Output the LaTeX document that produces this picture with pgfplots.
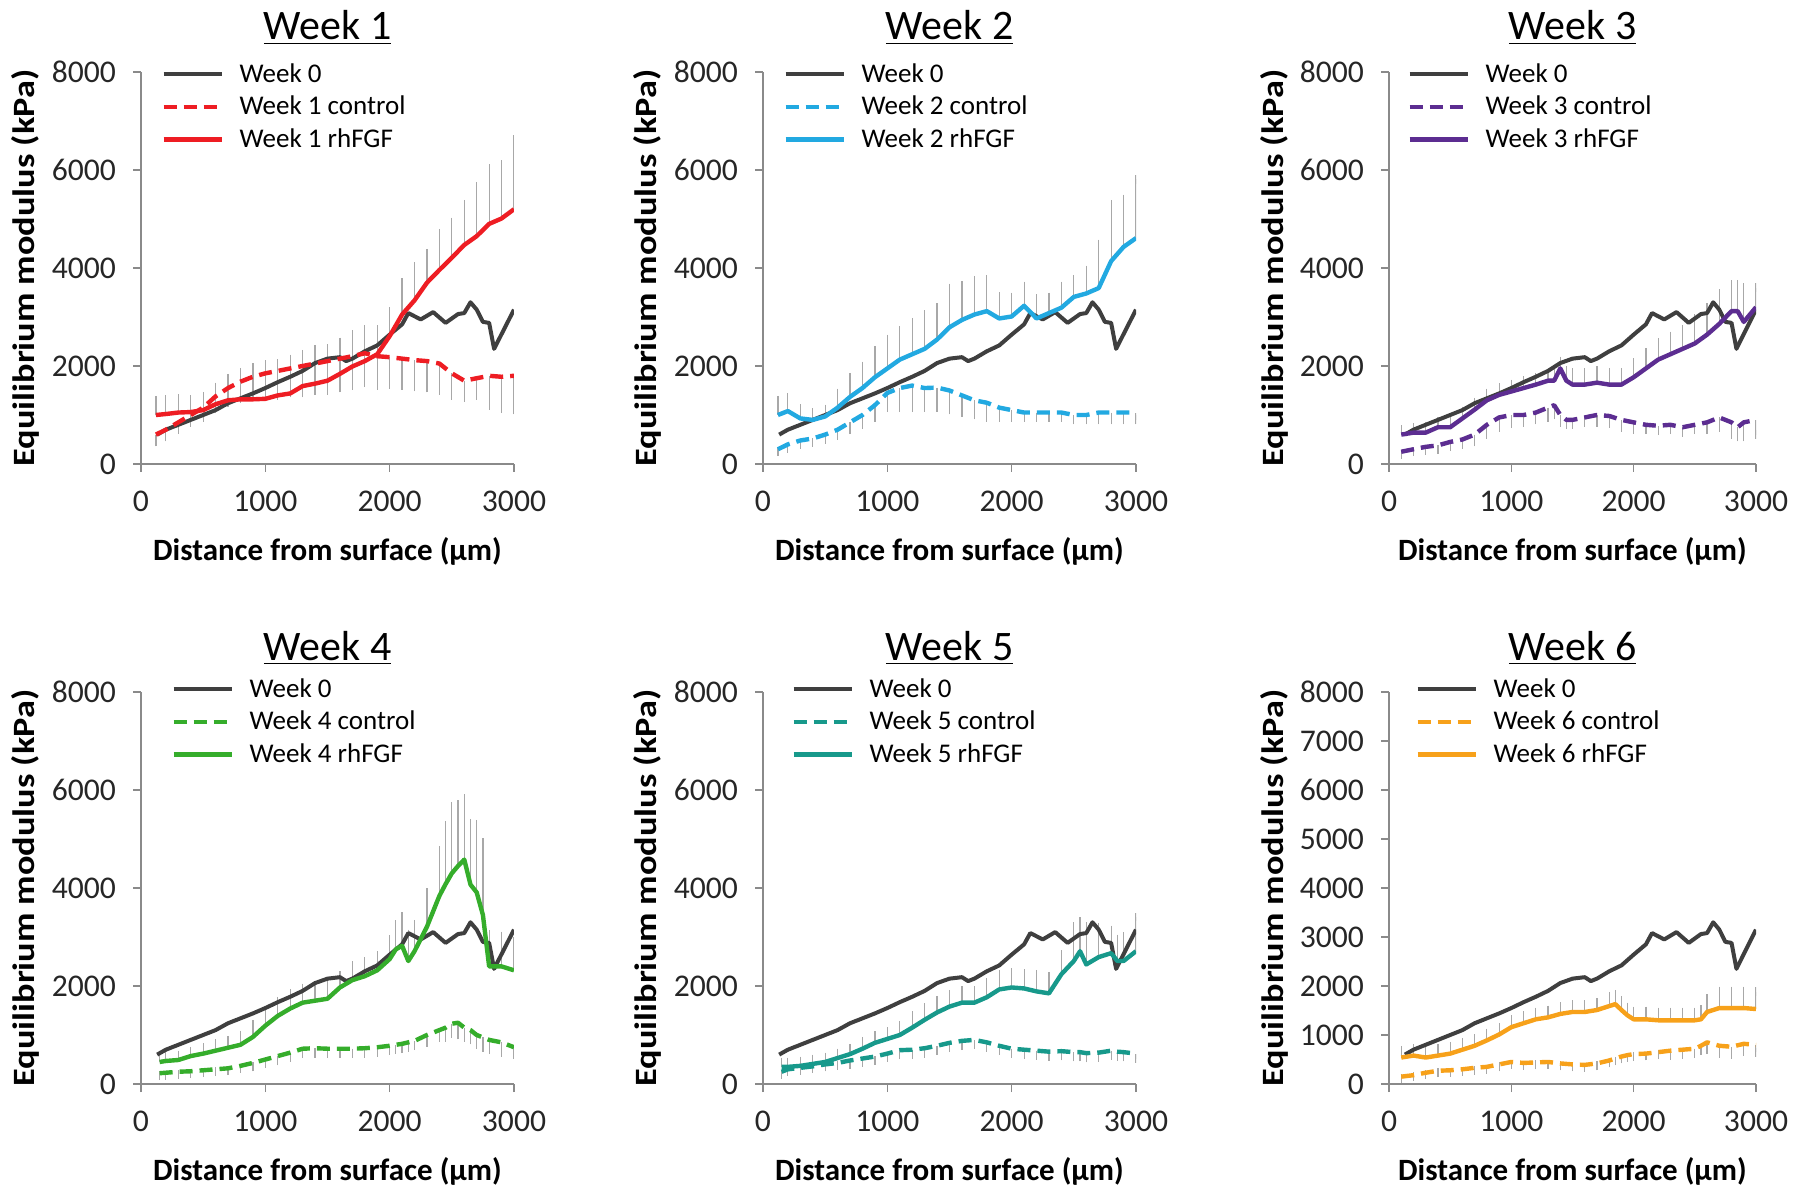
\documentclass[border=0pt]{standalone}
\usepackage{fontspec}
\setmainfont{Carlito}
\usepackage{graphicx}
\usepackage{pgfplots}
\usepackage{pgfplotstable}
\pgfplotsset{compat=1.18}

\definecolor{wzero}{HTML}{3F3F3F}
\definecolor{cI}{HTML}{EE1D23}
\definecolor{cII}{HTML}{22A9E1}
\definecolor{cIII}{HTML}{5C2D91}
\definecolor{cIV}{HTML}{35AD2B}
\definecolor{cV}{HTML}{17998B}
\definecolor{cVI}{HTML}{F7A11A}
\definecolor{errgray}{HTML}{A8A8A8}
\definecolor{axgray}{HTML}{8A8A8A}

\pgfplotstableread{
x y
130 600
200 700
300 800
400 900
500 1000
600 1100
700 1240
800 1340
900 1440
1000 1550
1100 1670
1200 1780
1300 1900
1400 2060
1500 2150
1600 2180
1650 2100
1700 2150
1800 2300
1900 2420
2000 2640
2100 2850
2150 3080
2250 2950
2350 3100
2450 2880
2550 3060
2600 3080
2650 3300
2700 3150
2750 2900
2800 2880
2840 2350
2900 2650
3000 3150
}\weekzero

\pgfplotstableread{
x c ce r re
120 600 150 1000 300
200 700 150 1020 300
300 850 150 1050 280
400 1000 150 1060 250
500 1150 200 1100 280
600 1380 250 1220 350
700 1550 300 1300 450
800 1680 350 1320 550
900 1780 400 1320 650
1000 1850 450 1330 700
1100 1900 500 1400 650
1200 1950 500 1440 700
1300 2000 550 1590 650
1400 2050 550 1640 700
1500 2100 600 1700 650
1600 2150 600 1840 650
1700 2200 600 1990 650
1800 2260 600 2100 650
1900 2200 600 2240 500
2000 2180 550 2610 500
2100 2150 550 3050 650
2200 2120 550 3340 690
2300 2100 550 3700 600
2400 2050 550 3960 750
2500 1850 450 4210 730
2600 1700 350 4470 830
2700 1750 350 4650 1020
2800 1800 600 4900 1130
2900 1780 650 5010 1100
3000 1800 700 5200 1420
}\tabI

\pgfplotstableread{
x c ce r re
120 300 50 1000 300
200 400 80 1080 280
300 480 80 930 200
400 520 80 900 150
500 600 100 970 150
600 700 120 1150 300
700 850 150 1370 400
800 1000 200 1550 450
900 1200 250 1770 550
1000 1450 300 1950 600
1100 1550 400 2130 600
1200 1600 450 2240 650
1300 1550 400 2350 700
1400 1560 400 2540 650
1500 1500 400 2790 800
1600 1400 350 2940 700
1700 1300 300 3050 700
1800 1250 300 3120 650
1900 1150 200 2970 450
2000 1100 150 3010 400
2100 1050 100 3230 400
2200 1050 100 2970 400
2300 1050 100 3080 330
2400 1050 100 3190 440
2500 1000 100 3410 360
2600 1000 100 3480 480
2700 1050 150 3590 900
2800 1050 150 4140 1160
2900 1050 150 4430 980
3000 1050 150 4610 1200
}\tabII

\pgfplotstableread{
x c ce r re
100 250 50 600 100
200 300 50 640 100
300 350 80 640 120
400 380 80 750 120
500 450 100 750 150
600 500 100 930 150
700 600 150 1110 150
800 800 200 1300 150
900 950 200 1410 150
1000 1000 180 1480 150
1100 1000 150 1550 150
1200 1050 150 1620 150
1300 1150 200 1700 150
1350 1200 200 1700 150
1400 1000 150 1950 150
1450 900 100 1700 200
1500 900 100 1620 250
1600 950 100 1620 250
1700 1000 150 1660 250
1800 980 150 1620 250
1900 900 150 1620 250
2000 850 150 1770 300
2100 800 100 1950 330
2200 780 100 2130 350
2300 800 100 2240 370
2400 750 100 2350 400
2500 800 100 2460 510
2600 850 150 2640 550
2700 950 200 2860 620
2800 850 250 3120 540
2850 750 200 3120 550
2900 850 300 2900 700
3000 900 300 3200 400
}\tabIII

\pgfplotstableread{
x c ce r re
150 220 50 450 100
200 230 50 470 100
300 250 50 490 100
400 260 50 570 100
500 280 50 620 120
600 300 50 680 150
700 320 50 740 150
800 370 50 800 200
900 430 80 960 250
1000 500 80 1190 300
1100 570 100 1390 300
1200 640 100 1540 300
1300 720 100 1660 300
1400 730 100 1700 300
1500 720 100 1740 300
1600 720 100 1970 250
1700 720 100 2120 300
1800 730 100 2200 300
1900 750 100 2320 300
2000 780 100 2550 400
2050 800 100 2750 500
2100 820 100 2820 600
2150 850 100 2510 550
2200 880 100 2710 550
2300 1000 150 3210 700
2400 1100 150 3840 930
2450 1150 200 4080 1200
2500 1230 200 4300 1370
2550 1250 250 4450 1250
2600 1150 200 4580 1240
2650 1100 200 4070 1250
2700 1000 200 3910 1390
2750 950 200 3450 1480
2800 900 200 2400 650
2900 850 200 2400 620
3000 750 150 2320 600
}\tabIV

\pgfplotstableread{
x c ce r re
150 250 50 350 100
200 300 50 350 100
300 330 50 370 100
400 360 50 410 100
500 400 50 450 100
600 430 50 530 100
700 480 80 610 120
800 520 80 720 150
900 560 80 840 150
1000 620 80 920 150
1100 690 100 1000 200
1200 700 100 1150 250
1300 730 100 1310 250
1400 780 100 1460 250
1500 840 100 1580 250
1600 880 100 1660 250
1700 900 100 1660 250
1800 850 100 1770 300
1900 780 100 1930 300
2000 720 100 1970 300
2100 700 100 1950 300
2200 680 100 1890 350
2300 660 100 1850 350
2400 670 100 2240 400
2500 650 100 2510 700
2550 650 100 2710 600
2600 630 100 2440 770
2700 640 100 2590 600
2800 680 100 2670 470
2850 660 100 2510 450
2900 650 100 2510 500
3000 620 100 2710 700
}\tabV

\pgfplotstableread{
x c ce r re
100 150 30 540 150
200 180 30 580 150
300 230 40 540 150
400 270 40 580 150
500 280 40 620 150
600 300 50 700 150
700 330 50 780 150
800 350 50 890 150
900 400 50 1010 150
1000 450 50 1160 150
1100 430 50 1240 150
1200 440 50 1320 150
1300 450 50 1360 150
1400 420 50 1430 150
1500 400 50 1470 150
1600 390 50 1470 150
1700 420 50 1510 150
1800 480 50 1590 200
1850 520 50 1630 200
1900 560 50 1510 200
1950 590 50 1400 170
2000 610 50 1320 170
2100 620 50 1320 170
2200 650 50 1300 170
2300 680 100 1300 170
2400 700 100 1300 170
2500 720 100 1300 170
2550 780 100 1320 200
2600 850 150 1470 270
2700 780 150 1550 350
2800 760 150 1550 350
2900 820 150 1550 350
3000 800 150 1530 350
}\tabVI

\pgfplotsset{
  legend image code/.code={\draw[#1] (0pt,0pt) -- (29pt,0pt); \path[draw=none, fill=none] (0pt,0pt) -- (36pt,0pt);},
  panelstyle/.style={
    scale only axis, height=196pt,
    xmin=0, xmax=3000, ymin=0, ymax=8000,
    xtick={0,1000,2000,3000},
    axis x line*=bottom, axis y line*=left,
    axis line style={draw=axgray, line width=0.7pt},
    every tick/.style={draw=axgray, line width=0.7pt},
    tick align=outside, major tick length=4pt,
    tick label style={font=\fontsize{15.8}{18}\selectfont, text=black!85},
    /pgf/number format/assume math mode=true,
    /pgf/number format/1000 sep={},
    yticklabel style={xshift=-5pt},
    xticklabel style={yshift=-6pt},
    xlabel={Distance from surface (µm)},
    ylabel={\scalebox{1.17}[1]{Equilibrium modulus (kPa)}},
    label style={font=\bfseries\fontsize{15.5}{18}\selectfont},
    xlabel style={at={(axis description cs:0.5,-0.222)}, anchor=center},
    ylabel style={at={(axis description cs:-0.311,0.5)}, anchor=center},
    title style={at={(axis description cs:0.5,1)}, anchor=base, yshift=10pt, font=\fontsize{21}{24}\selectfont},
    legend cell align=left,
  },
  errplot/.style={draw=errgray, draw opacity=0, mark=none, forget plot,
    error bars/error bar style={draw=errgray, draw opacity=1, solid, line width=0.6pt},
    error bars/error mark=-,
    error bars/error mark options={draw=errgray, draw opacity=1, solid, line width=0.6pt, mark size=2.2pt}},
}

\newcommand{\panel}[9]{%
\begin{axis}[panelstyle, at={(#1,#2)}, anchor=south west, width=#7,
  title={\underline{Week #3}}, ytick={#6},
  legend style={at={(axis description cs:0,1)}, anchor=north west, xshift=#8, yshift=#9,
    draw=none, fill=none, font=\fontsize{13.5}{15}\selectfont, row sep=1.4pt}]
\addplot[errplot, error bars/.cd, y dir=plus, y explicit] table[x=x, y=r, y error=re]{#5};
\addplot[errplot, error bars/.cd, y dir=minus, y explicit] table[x=x, y=c, y error=ce]{#5};
\addplot[draw=wzero, line width=2pt, line join=round, mark=none] table[x=x, y=y]{\weekzero};
\addplot[draw=#4, line width=2.2pt, line join=round, mark=none, dash pattern=on 6.5pt off 3.5pt] table[x=x, y=c]{#5};
\addplot[draw=#4, line width=2.2pt, line join=round, mark=none] table[x=x, y=r]{#5};
\legend{Week 0, Week #3 control, Week #3 rhFGF}
\end{axis}}

\begin{document}
\begin{tikzpicture}
\useasboundingbox (0,0) rectangle (900pt,597.5pt);
\panel{70.5pt}{365.5pt}{1}{cI}{\tabI}{0,2000,4000,6000,8000}{186.5pt}{7pt}{8.5pt}
\panel{381.5pt}{365.5pt}{2}{cII}{\tabII}{0,2000,4000,6000,8000}{186.5pt}{7pt}{8.5pt}
\panel{694.5pt}{365.5pt}{3}{cIII}{\tabIII}{0,2000,4000,6000,8000}{183.5pt}{6pt}{8.5pt}
\panel{70.5pt}{55.5pt}{4}{cIV}{\tabIV}{0,2000,4000,6000,8000}{186.5pt}{12pt}{11pt}
\panel{381.5pt}{55.5pt}{5}{cV}{\tabV}{0,2000,4000,6000,8000}{186.5pt}{11pt}{11pt}
\panel{694.5pt}{55.5pt}{6}{cVI}{\tabVI}{0,1000,...,8000}{183.5pt}{10pt}{11pt}
\end{tikzpicture}
\end{document}
